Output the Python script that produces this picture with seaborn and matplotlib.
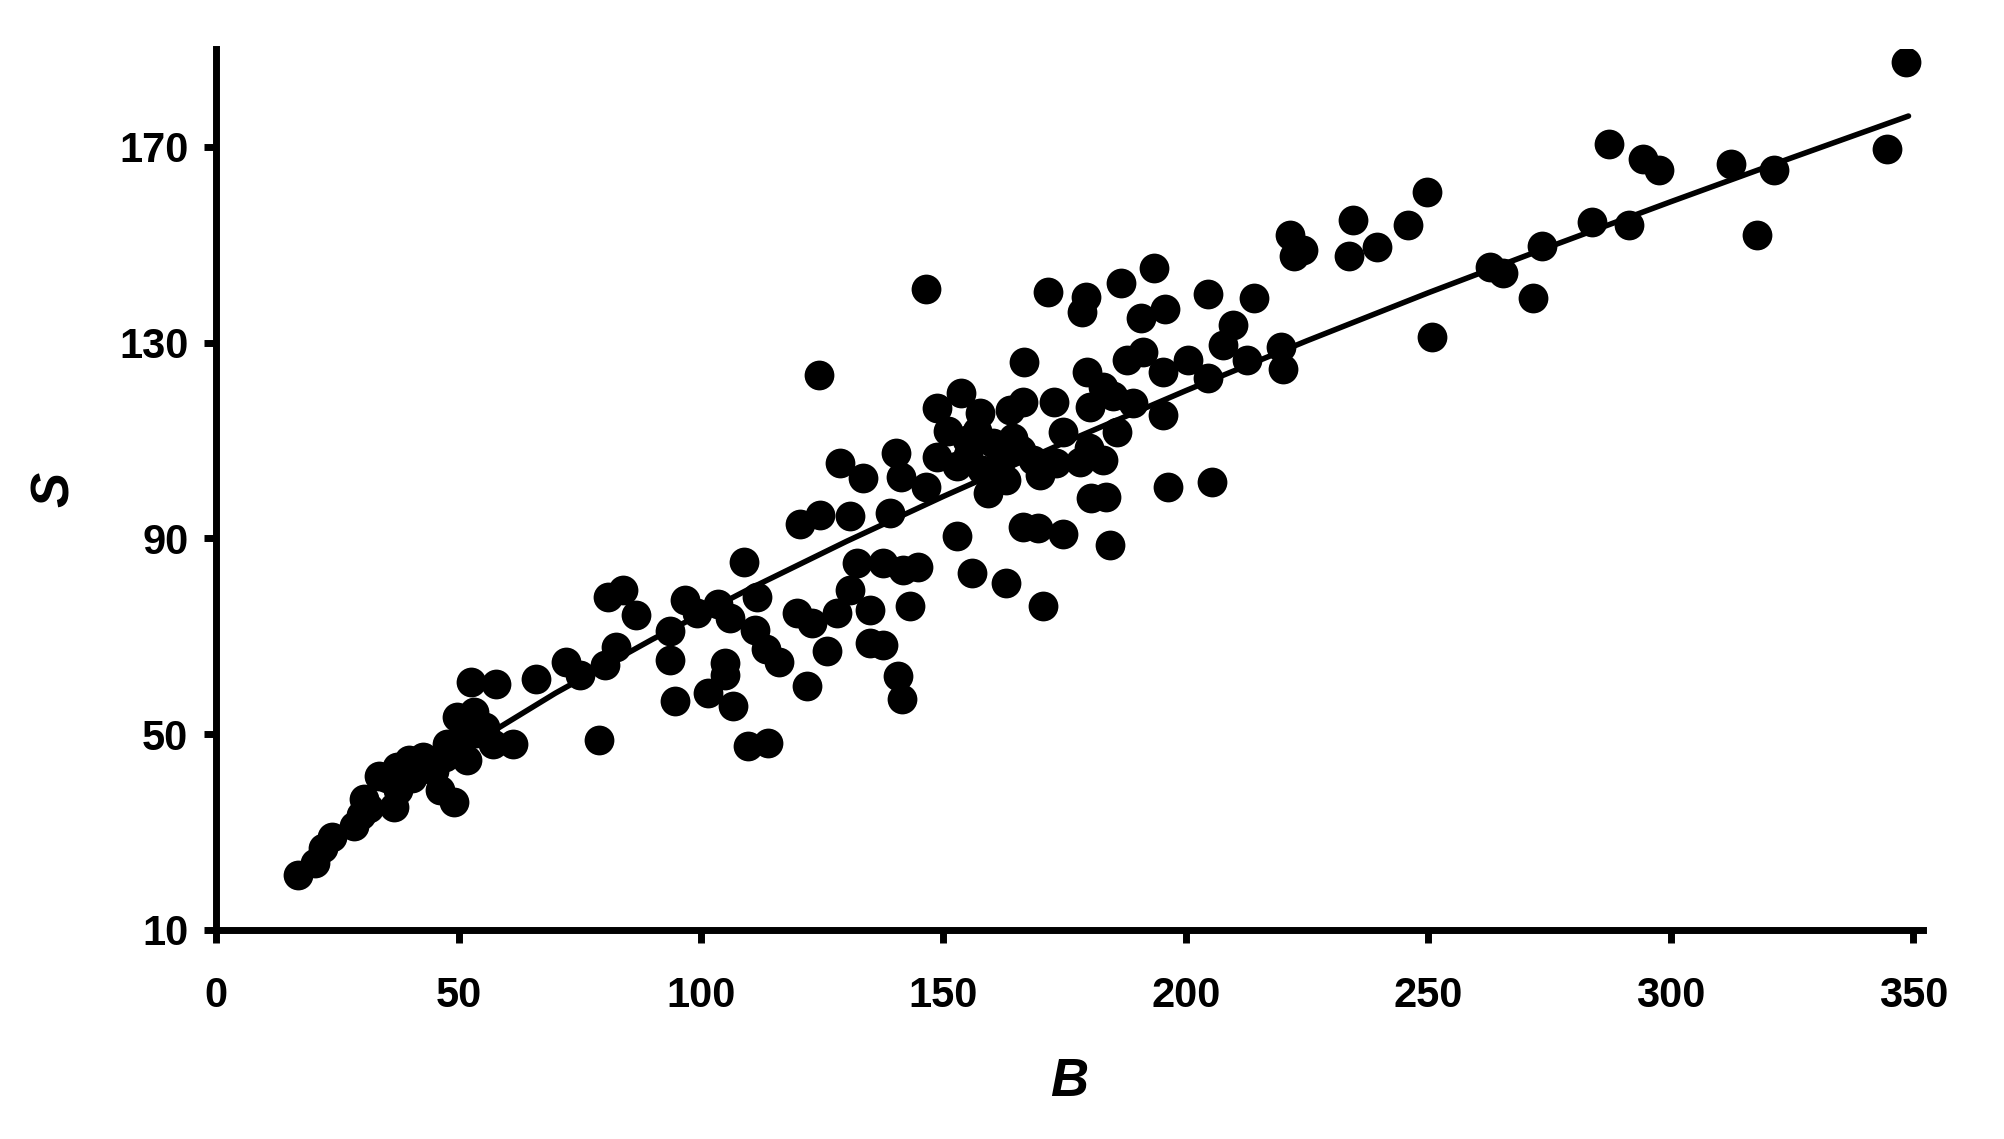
import numpy as np
import pandas as pd
import matplotlib
matplotlib.use('Agg')
import matplotlib.pyplot as plt
import seaborn as sns

# scatter points (B, S)
B = [16.8, 20.4, 22.1, 23.9, 28.5, 29.8, 30.5, 31.5, 33.7, 35.2, 36.6, 37.3, 37.5,
     39.8, 40.5, 42.7, 43.5, 45.0, 46.2, 47.2, 47.6, 49.1, 49.6, 50.3, 51.7, 51.5,
     53.1, 53.7, 52.6, 57.7, 57.2, 61.3, 55.5,
     66.0, 72.2, 75.0, 79.0, 80.2, 82.5, 80.9, 84.0, 86.6, 93.6, 93.7, 94.6, 96.7,
     99.1, 101.5, 103.6, 104.9, 104.9, 106.0, 106.7, 108.9, 109.6, 111.5, 111.1,
     113.5, 113.9, 116.0, 119.7,
     120.4, 121.9, 122.8, 124.5, 124.4, 125.9, 128.0, 128.7, 130.7, 130.7, 132.1,
     133.5, 134.8, 134.8, 137.6, 137.6, 139.0, 140.3, 141.2, 141.7, 140.7, 141.5,
     143.1, 144.8, 146.5, 146.5,
     148.6, 153.7, 157.5, 163.7, 166.5, 172.8, 180.2, 185.0, 189.1, 195.3, 185.7,
     174.7, 154.8, 164.4, 148.6, 160.3, 152.7, 161.6, 168.5, 173.3, 178.1, 183.0,
     180.0, 159.2, 180.5, 183.6, 196.3, 166.5, 169.5, 174.7, 184.3, 205.4,
     155.0, 158.0, 163.0, 166.0, 170.0, 157.0, 151.0,
     152.7, 155.8, 162.8, 170.6,
     166.6, 179.5, 183.0, 187.8, 195.3, 191.2, 200.5, 204.6, 207.7, 209.8, 212.5,
     219.7, 220.0, 171.5, 179.4, 178.6, 186.6, 193.4, 190.7, 195.7, 204.6, 214.0,
     221.4, 224.2, 222.3, 234.5, 233.6, 239.3, 245.7, 249.8, 250.7, 262.7, 265.4,
     271.6, 273.5, 283.8, 291.3, 287.3, 294.3, 297.6, 312.3, 317.7, 321.2, 344.5,
     348.5]
S = [21.2, 23.6, 26.7, 29.1, 31.3, 33.5, 36.8, 35.0, 41.5, 41.0, 35.2, 43.4, 38.5,
     44.7, 41.0, 45.4, 43.4, 42.5, 38.6, 45.4, 48.1, 36.2, 53.6, 46.8, 44.7, 52.0,
     54.6, 50.2, 60.7, 60.3, 48.1, 48.1, 51.5,
     61.2, 64.8, 62.1, 48.8, 64.1, 67.9, 78.1, 79.5, 74.4, 71.0, 65.2, 56.7, 77.4,
     74.8, 58.5, 76.7, 64.5, 62.0, 73.7, 55.8, 85.1, 47.5, 78.1, 71.3,
     67.5, 48.3, 64.8, 74.7,
     93.0, 59.9, 72.7, 94.8, 123.3, 66.9, 74.7, 105.4, 79.5, 94.6, 84.9,
     102.3, 75.4, 68.6, 84.9, 68.2, 95.1, 107.5, 102.5, 83.6, 61.8, 57.2,
     76.1, 84.2, 100.6, 140.9,
     116.6, 119.7, 115.6, 116.3, 117.9, 117.9, 116.9, 119.0, 117.6, 115.2, 111.8,
     111.8, 110.1, 110.5, 106.7, 109.4, 104.7, 105.4, 106.0, 105.4, 105.7, 106.0,
     108.5, 99.2, 98.2, 98.5, 100.6, 92.4, 92.1, 91.0, 88.7, 101.5,
     107.0, 104.0, 102.0, 108.0, 103.0, 112.0, 112.0,
     90.4, 82.9, 80.9, 76.2,
     126.1, 124.0, 121.0, 126.5, 124.1, 128.1, 126.5, 122.7, 129.5, 133.6, 126.5,
     129.2, 124.7, 140.4, 139.4, 136.3, 142.1, 145.2, 135.0, 136.8, 140.0, 139.1,
     152.0, 148.9, 147.8, 155.1, 147.7, 149.6, 154.1, 160.8, 131.1, 145.5, 144.2,
     139.1, 149.8, 154.6, 154.1, 170.5, 167.5, 165.3, 166.5, 151.9, 165.3, 169.6,
     187.3]

# fitted curve, read at a few points along the line
fit_B = [17, 30, 50, 70, 90, 110, 130, 150, 175, 200, 225, 250, 275, 300, 325, 349]
fit_S = [22.0, 32.6, 46.3, 58.4, 69.4, 79.7, 89.4, 98.6, 109.6, 120.2, 130.4,
         140.2, 149.6, 158.8, 167.8, 176.3]

x_ticks = [0, 50, 100, 150, 200, 250, 300, 350]
y_ticks = [10, 50, 90, 130, 170]

df = pd.DataFrame({'B': B, 'S': S})
fit = pd.DataFrame({'B': fit_B, 'S': fit_S})

sns.set_style('ticks')
plt.rcParams['font.family'] = ['Liberation Sans', 'DejaVu Sans']
plt.rcParams['text.color'] = 'black'
plt.rcParams['axes.labelcolor'] = 'black'
plt.rcParams['xtick.color'] = 'black'
plt.rcParams['ytick.color'] = 'black'

fig = plt.figure(figsize=(20.04, 11.39), dpi=100)
ax = fig.add_axes([0.1078, 0.1835, 0.8518, 0.7735])

sns.scatterplot(data=df, x='B', y='S', color='black', s=460, linewidth=0, ax=ax)
sns.lineplot(data=fit, x='B', y='S', color='black', linewidth=4, ax=ax)

ax.set_xlim(0, 352)
ax.set_ylim(10, 190)
ax.set_xticks(x_ticks)
ax.set_yticks(y_ticks)
sns.despine(ax=ax)
for sp in ['left', 'bottom']:
    ax.spines[sp].set_linewidth(5)
    ax.spines[sp].set_color('black')

ax.tick_params(axis='both', direction='out', length=9, width=5, colors='black',
               labelsize=30)
ax.tick_params(axis='x', pad=24)
ax.tick_params(axis='y', pad=11)
for lbl in ax.get_xticklabels() + ax.get_yticklabels():
    lbl.set_fontweight('bold')

ax.set_xlabel('B', fontsize=38, fontweight='bold', fontstyle='italic', labelpad=30)
ax.set_ylabel('S', fontsize=38, fontweight='bold', fontstyle='italic', labelpad=28)

fig.savefig('out.png', dpi=100)
